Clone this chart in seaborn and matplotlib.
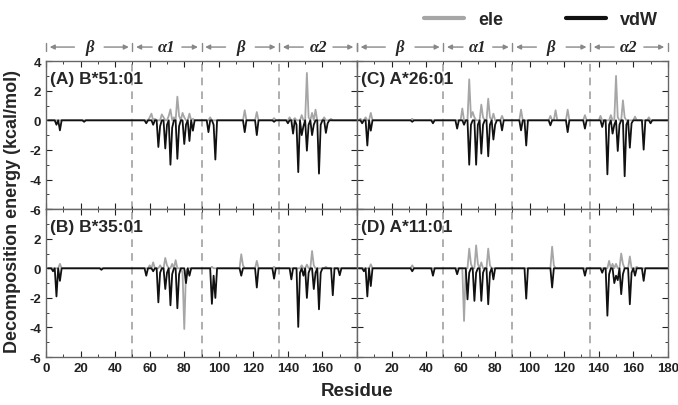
import numpy as np
import pandas as pd
import seaborn as sns
import matplotlib.pyplot as plt
from matplotlib.lines import Line2D

sns.set_style("ticks")
plt.rcParams['font.family'] = ['Liberation Sans', 'DejaVu Sans']
plt.rcParams['font.weight'] = 'bold'

residues = np.arange(1, 181)

# non-zero residues, everything else is ~0
a_vdw_res = [6, 8, 22, 58, 62, 65, 66, 69, 70, 72, 73, 76, 77, 80, 81, 83, 85, 94, 97, 98, 115, 122, 132,
             140, 143, 145, 146, 148, 149, 151, 152, 154, 155, 158, 159, 162, 163]
a_vdw_val = [-0.3, -0.68, -0.1, -0.2, -0.3, -1.8, -0.4, -1.9, -0.3, -3.0, -0.5, -2.6, -0.4, -1.6, -0.3, -1.4, -0.7,
             -0.8, -0.3, -2.65, -0.8, -1.0, -0.1, -0.2, -0.9, -0.3, -3.5, -1.0, -0.4, -2.05, -0.3, -1.0, -0.3,
             -3.6, -0.3, -0.85, -0.2]
a_ele_res = [60, 61, 63, 67, 68, 71, 72, 74, 76, 77, 79, 80, 83, 85, 95, 115, 122, 132, 141, 144, 148, 151, 152,
             154, 156, 161, 165]
a_ele_val = [0.2, 0.45, 0.1, 0.4, 0.2, 0.3, 0.74, 0.2, 1.6, 0.3, 0.5, 0.2, 0.45, 0.1, 0.2, 0.68, 0.56, 0.15, 0.2,
             0.15, 0.35, 3.2, 0.2, 0.5, 0.72, 0.2, 0.1]

b_vdw_res = [4, 6, 8, 32, 58, 62, 65, 66, 69, 70, 72, 73, 76, 77, 81, 83, 96, 97, 98, 113, 122, 132,
             142, 146, 147, 149, 151, 152, 155, 156, 158, 159, 166, 170]
b_vdw_val = [-0.2, -1.9, -0.85, -0.1, -0.5, -0.2, -2.3, -0.3, -1.4, -0.3, -2.5, -0.4, -2.7, -0.4, -1.0, -0.5,
             -2.4, -0.5, -2.0, -0.5, -1.3, -0.7, -0.75, -3.96, -0.3, -0.5, -2.0, -0.3, -1.4, -0.3, -2.77, -0.3,
             -1.82, -0.47]
b_ele_res = [8, 60, 62, 66, 69, 70, 73, 75, 79, 80, 81, 96, 113, 114, 122, 132, 148, 151, 154, 155, 162]
b_ele_val = [0.3, 0.2, 0.4, 0.2, 0.7, 0.2, 0.3, 0.55, -0.3, -4.1, -0.2, 0.1, 0.95, 0.2, 0.5, 0.1, 0.2, 0.25,
             1.17, 0.2, 0.1]

c_vdw_res = [3, 6, 8, 32, 44, 58, 62, 65, 66, 69, 70, 72, 73, 76, 77, 79, 80, 84, 95, 98, 112, 122, 132,
             142, 145, 146, 148, 149, 151, 152, 155, 156, 158, 159, 166, 170]
c_vdw_val = [-0.2, -1.7, -0.7, -0.1, -0.2, -0.56, -0.3, -3.0, -0.3, -3.0, -0.3, -2.25, -0.3, -2.43, -0.3, -1.3,
             -0.3, -0.68, -0.68, -1.7, -0.34, -0.8, -0.56, -0.45, -3.65, -0.3, -0.9, -0.3, -2.07, -0.3, -3.78,
             -0.3, -1.85, -0.2, -1.98, -0.2]
c_ele_res = [2, 5, 8, 32, 61, 65, 66, 67, 68, 72, 73, 76, 77, 79, 84, 95, 112, 115, 122, 132, 141, 147, 150,
             151, 154, 155, 161, 169]
c_ele_val = [0.1, 0.2, 0.5, 0.1, 0.8, 2.77, 0.2, 0.56, 0.2, 1.06, 0.2, 1.46, 0.2, 0.45, 0.3, 0.72, 0.3, 0.68,
             0.72, 0.35, 0.3, 0.35, 3.0, 0.2, 1.35, 0.2, 0.25, 0.2]

d_vdw_res = [4, 6, 8, 32, 44, 58, 64, 65, 68, 69, 72, 73, 76, 77, 79, 98, 113, 132, 142, 145, 146, 149, 150,
             151, 153, 154, 158, 159, 161, 166]
d_vdw_val = [-0.2, -1.9, -1.2, -0.2, -0.5, -0.4, -2.1, -0.3, -2.2, -0.3, -2.2, -0.3, -2.43, -0.3, -0.75, -2.05,
             -1.3, -0.5, -0.3, -3.2, -0.4, -1.0, -0.5, -0.8, -1.75, -0.4, -2.43, -0.3, -0.5, -0.85]
d_ele_res = [8, 32, 62, 65, 66, 69, 70, 72, 76, 77, 113, 114, 146, 148, 150, 153, 154, 158, 162]
d_ele_val = [0.27, 0.2, -3.56, 1.33, 0.3, 1.55, 0.3, 0.4, 1.33, 0.2, 1.46, 0.2, 0.5, 0.3, 0.3, 1.0, 0.3, 0.8, 0.1]

panel_titles = ["(A) B*51:01", "(C) A*26:01", "(B) B*35:01", "(D) A*11:01"]
panel_data = [(a_ele_res, a_ele_val, a_vdw_res, a_vdw_val),
              (c_ele_res, c_ele_val, c_vdw_res, c_vdw_val),
              (b_ele_res, b_ele_val, b_vdw_res, b_vdw_val),
              (d_ele_res, d_ele_val, d_vdw_res, d_vdw_val)]

boundaries = [50, 90, 135]
segments = [0, 50, 90, 135, 180]
segment_labels = ["β", "α1", "β", "α2"]

ele_color = "#a6a6a6"
vdw_color = "#111111"


def full_series(res, val):
    y = np.zeros(len(residues))
    for r, v in zip(res, val):
        y[r - 1] = v
    return y


fig, axes = plt.subplots(2, 2, figsize=(6.78, 4.06), dpi=100)
fig.subplots_adjust(left=0.068, right=0.985, bottom=0.118, top=0.847, wspace=0, hspace=0)

for i, ax in enumerate(axes.flat):
    row, col = divmod(i, 2)
    er, ev, vr, vv = panel_data[i]
    df = pd.DataFrame({
        "Residue": np.concatenate([residues, residues]),
        "Energy": np.concatenate([full_series(er, ev), full_series(vr, vv)]),
        "term": ["ele"] * len(residues) + ["vdW"] * len(residues),
    })
    sns.lineplot(data=df, x="Residue", y="Energy", hue="term", palette={"ele": ele_color, "vdW": vdw_color},
                 hue_order=["ele", "vdW"], linewidth=1.3, legend=False, ax=ax)
    for b in boundaries:
        ax.axvline(b, color="#999999", lw=1.1, ls=(0, (5, 4)), zorder=0)
    ax.text(0.012, 0.93, panel_titles[i], transform=ax.transAxes, fontsize=12.5, fontweight="bold",
            va="top", ha="left")
    ax.set_xlim(0, 180)
    ax.set_ylim(-6, 4)
    ax.set_xticks(np.arange(0, 181, 20))
    ax.set_xticks(np.arange(0, 181, 10), minor=True)
    ax.set_yticks(np.arange(-6, 5, 2))
    ax.set_yticks(np.arange(-6, 5, 1), minor=True)
    ax.tick_params(which="both", direction="in", top=True, right=True, labelsize=9.5, colors="#222222")
    ax.tick_params(which="major", length=4)
    ax.tick_params(which="minor", length=2)
    for sp in ax.spines.values():
        sp.set_color("#666666")
        sp.set_linewidth(1.0)
    ax.set_xlabel("")
    ax.set_ylabel("")

    # tick labels only on the outer edges, skipping the shared corners
    if row == 0:
        ax.set_xticklabels([])
    else:
        xt = np.arange(0, 181, 20)
        ax.set_xticklabels(["" if (col == 0 and v == 180) else str(v) for v in xt], fontweight="bold")
    if col == 1:
        ax.set_yticklabels([])
    else:
        yt = np.arange(-6, 5, 2)
        ax.set_yticklabels(["" if (row == 1 and v == 4) else str(v) for v in yt], fontweight="bold")

# secondary structure arrows above the top row
for ax in axes[0]:
    tr = ax.get_xaxis_transform()
    ya = 1.095
    for x in segments:
        ax.plot([x, x], [ya - 0.03, ya + 0.03], color="#888888", lw=1.0, transform=tr, clip_on=False)
    for k in range(4):
        a, b = segments[k], segments[k + 1]
        m = (a + b) / 2
        gap = 7
        ax.annotate("", xy=(a + 0.5, ya), xytext=(m - gap, ya), xycoords=tr, textcoords=tr,
                    arrowprops=dict(arrowstyle="-|>", color="#888888", lw=1.0, mutation_scale=7))
        ax.annotate("", xy=(b - 0.5, ya), xytext=(m + gap, ya), xycoords=tr, textcoords=tr,
                    arrowprops=dict(arrowstyle="-|>", color="#888888", lw=1.0, mutation_scale=7))
        ax.text(m, ya, segment_labels[k], transform=tr, ha="center", va="center", fontsize=12,
                family=["Liberation Serif", "DejaVu Serif"], style="italic", fontweight="bold")

handles = [Line2D([], [], color=ele_color, lw=3), Line2D([], [], color=vdw_color, lw=3)]
fig.legend(handles, ["ele", "vdW"], loc="upper right", bbox_to_anchor=(0.995, 1.01), ncol=2, frameon=False,
           handlelength=2.2, columnspacing=3.5, prop={"size": 13, "weight": "bold"})

fig.text(0.018, 0.48, "Decomposition energy (kcal/mol)", rotation=90, ha="center", va="center",
         fontsize=13, fontweight="bold")
fig.text(0.527, 0.035, "Residue", ha="center", va="center", fontsize=13.5, fontweight="bold")

fig.savefig("out.png", dpi=100)
